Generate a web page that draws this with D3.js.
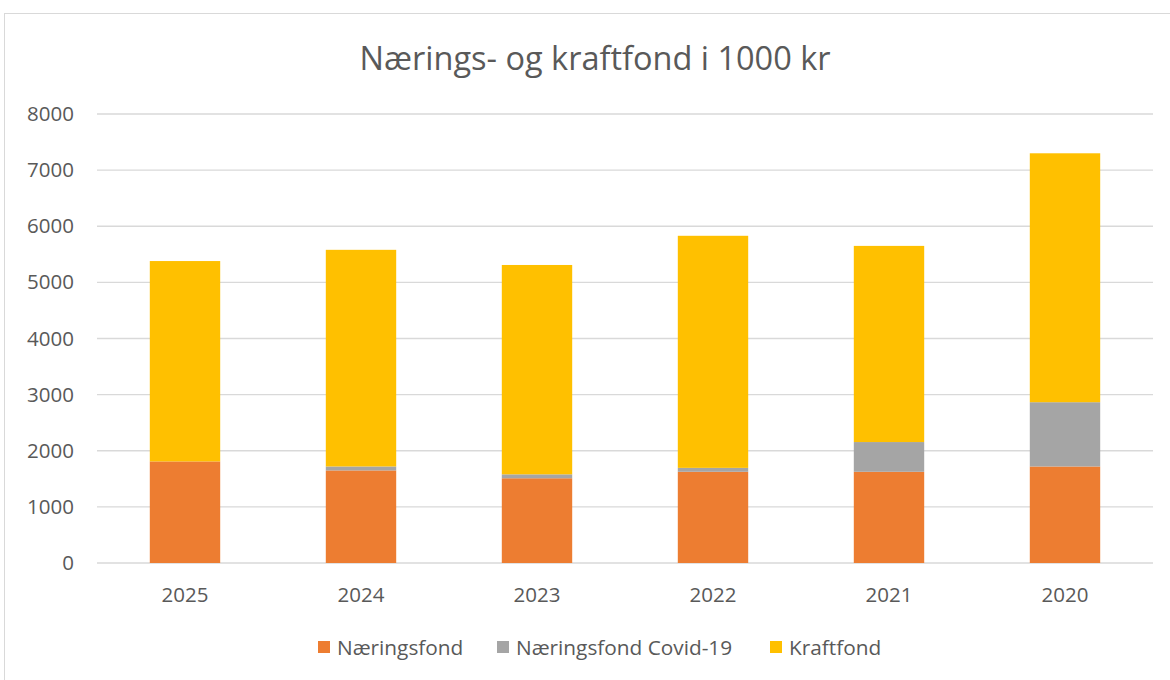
<!DOCTYPE html>
<html><head><meta charset="utf-8">
<script src="https://cdn.jsdelivr.net/npm/d3@7"></script>
<style>body{margin:0;background:#fff;} svg{display:block;font-family:"Open Sans",Lato,sans-serif;}</style>
</head><body>
<svg id="c" width="1170" height="680"></svg>
<script>
const categories = ["2025","2024","2023","2022","2021","2020"];
const naeringsfond = [1810,1650,1510,1625,1625,1720];
const covid = [0,70,70,70,530,1145];
const kraftfond = [3570,3860,3730,4135,3495,4435];
const seriesNames = ["Næringsfond","Næringsfond Covid-19","Kraftfond"];
const colors = ["#ED7D31","#A5A5A5","#FFC000"];
const yTicks = [0,1000,2000,3000,4000,5000,6000,7000,8000];
const title = "Nærings- og kraftfond i 1000 kr";

const F = "Open Sans";
const svg = d3.select("#c");
svg.append("rect").attr("x",4.5).attr("y",13.5).attr("width",1170).attr("height",680).attr("fill","#fff").attr("stroke","#D9D9D9");

const x = d3.scaleBand().domain(categories).range([97,1153]).paddingInner(0.6).paddingOuter(0.3);
const y = d3.scaleLinear().domain([0,8000]).range([563,114]);

const grid = svg.append("g");
grid.selectAll("line").data(yTicks).join("line")
  .attr("x1",97).attr("x2",1153).attr("y1",d=>y(d)).attr("y2",d=>y(d))
  .attr("stroke","#D9D9D9").attr("stroke-width",1.3);

const yAxis = svg.append("g").attr("transform","translate(74,0)")
  .call(d3.axisLeft(y).tickValues(yTicks).tickSize(0).tickPadding(0).tickFormat(d3.format("d")));
yAxis.select(".domain").remove();
yAxis.selectAll("text").attr("font-size",20.5).attr("fill","#595959").attr("font-family",F);

const xAxis = svg.append("g").attr("transform","translate(0,563)")
  .call(d3.axisBottom(x).tickSize(0).tickPadding(24));
xAxis.select(".domain").remove();
xAxis.selectAll("text").attr("font-size",20.5).attr("fill","#595959").attr("font-family",F);

const rows = categories.map((c,i)=>({cat:c,"Næringsfond":naeringsfond[i],"Næringsfond Covid-19":covid[i],"Kraftfond":kraftfond[i]}));
const stack = d3.stack().keys(seriesNames)(rows);
svg.append("g").selectAll("g").data(stack).join("g").attr("fill",(d,i)=>colors[i])
  .selectAll("rect").data(d=>d).join("rect")
  .attr("x",d=>x(d.data.cat)).attr("width",x.bandwidth())
  .attr("y",d=>y(d[1])).attr("height",d=>y(d[0])-y(d[1]));

svg.append("text").attr("x",595).attr("y",70).attr("text-anchor","middle")
  .attr("font-size",32.5).attr("fill","#595959").attr("font-family",F).text(title);

const legX = [318,497,770];
const leg = svg.append("g");
seriesNames.forEach((n,i)=>{
  leg.append("rect").attr("x",legX[i]).attr("y",641).attr("width",12).attr("height",12).attr("fill",colors[i]);
  leg.append("text").attr("x",legX[i]+19).attr("y",655).attr("font-size",20.8).attr("fill","#595959").attr("font-family",F).text(n);
});
</script>
</body></html>
